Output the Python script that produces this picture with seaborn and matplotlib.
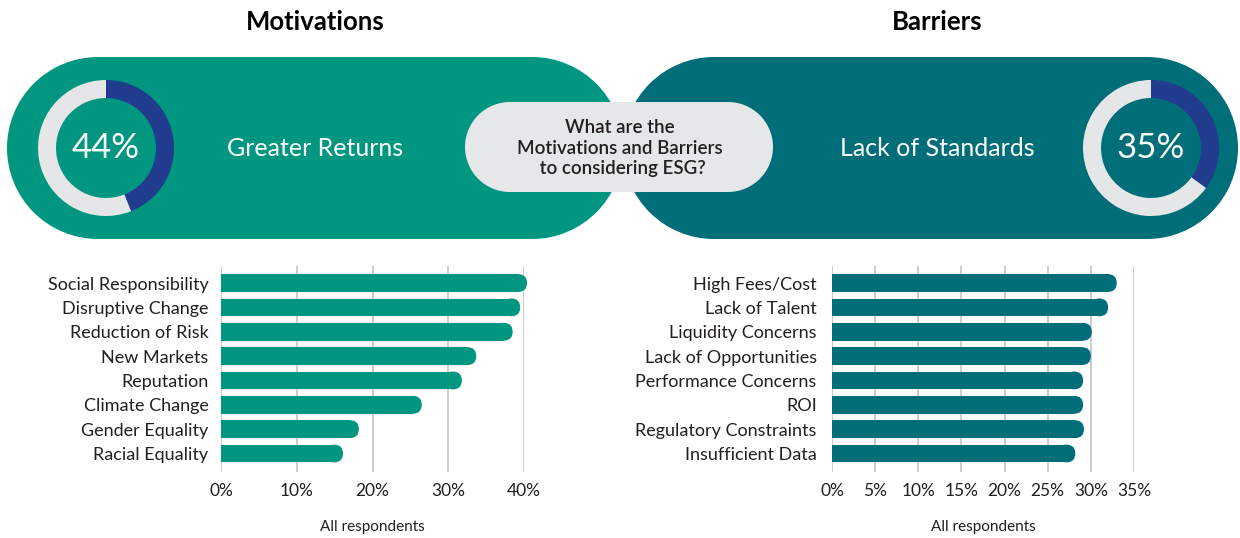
import matplotlib
matplotlib.use('Agg')
import matplotlib.pyplot as plt
from matplotlib.patches import FancyBboxPatch, Rectangle, Circle
import seaborn as sns

# ------------------------------------------------------------
# Data
# ------------------------------------------------------------
motive_labels = ['Social Responsibility', 'Disruptive Change', 'Reduction of Risk',
                 'New Markets', 'Reputation', 'Climate Change',
                 'Gender Equality', 'Racial Equality']
motive_values = [40.4, 39.5, 38.5, 33.7, 31.8, 26.5, 18.2, 16.1]

barrier_labels = ['High Fees/Cost', 'Lack of Talent', 'Liquidity Concerns',
                  'Lack of Opportunities', 'Performance Concerns', 'ROI',
                  'Regulatory Constraints', 'Insufficient Data']
barrier_values = [33.0, 32.0, 30.1, 30.0, 29.1, 29.1, 29.2, 28.2]

top_motive = 'Greater Returns'
top_motive_pct = 44
top_barrier = 'Lack of Standards'
top_barrier_pct = 35

motive_ticks = [0, 10, 20, 30, 40]
barrier_ticks = [0, 5, 10, 15, 20, 25, 30, 35]

# ------------------------------------------------------------
# Style
# ------------------------------------------------------------
GREEN = '#00967F'
TEAL = '#006E79'
BLUE = '#213B8F'
LIGHT = '#E5E6E8'
INK = '#231F20'

sns.set_theme(style='white')
plt.rcParams['font.family'] = ['Lato', 'DejaVu Sans']

W, H = 1240, 538
fig = plt.figure(figsize=(W / 100, H / 100), dpi=100)

# background canvas in pixel coords
bg = fig.add_axes([0, 0, 1, 1])
bg.set_xlim(0, W)
bg.set_ylim(H, 0)
bg.axis('off')


def pill(x0, y0, w, h, color):
    # stadium shape: rectangle + two half circles
    r = h / 2
    bg.add_patch(Rectangle((x0 + r, y0), w - 2 * r, h, fc=color, ec='none'))
    bg.add_patch(Circle((x0 + r, y0 + r), r, fc=color, ec='none'))
    bg.add_patch(Circle((x0 + w - r, y0 + r), r, fc=color, ec='none'))


pill(7, 57, 616, 182, GREEN)
pill(623, 57, 615, 182, TEAL)
pill(465, 102, 308, 90, '#E6E7E9')

bg.text(620, 148, 'What are the\nMotivations and Barriers\n to considering ESG?',
        ha='center', va='center', fontsize=13.5, fontweight='semibold', color=INK,
        linespacing=1.25)

bg.text(315, 22, 'Motivations', ha='center', va='center', fontsize=18.5,
        fontweight='bold', color='black')
bg.text(937, 22, 'Barriers', ha='center', va='center', fontsize=18.5,
        fontweight='bold', color='black')
bg.text(315, 148, top_motive, ha='center', va='center', fontsize=18, color='white')
bg.text(937, 148, top_barrier, ha='center', va='center', fontsize=18, color='white')


def donut(cx, cy, pct):
    r = 68
    ax = fig.add_axes([(cx - r) / W, (H - cy - r) / H, 2 * r / W, 2 * r / H])
    ax.pie([pct, 100 - pct], colors=[BLUE, LIGHT], startangle=90, counterclock=False,
           wedgeprops=dict(width=0.265, edgecolor='none'))
    ax.set_xlim(-1, 1)
    ax.set_ylim(-1, 1)
    ax.axis('off')
    ax.text(0, 0, f'{pct}%', ha='center', va='center', fontsize=25, color='white')


donut(106, 148, top_motive_pct)
donut(1151, 148, top_barrier_pct)


# ------------------------------------------------------------
# Bar charts
# ------------------------------------------------------------
def bar_panel(left_px, width_px, labels, values, ticks, color, label_pad):
    top_px, bottom_px = 266, 472
    ax = fig.add_axes([left_px / W, (H - bottom_px) / H, width_px / W,
                       (bottom_px - top_px) / H])
    df = {'label': labels, 'value': values}
    sns.barplot(data=df, x='value', y='label', orient='h', color=color,
                width=0.73, saturation=1, ax=ax)
    xmax = ticks[-1]
    ax.set_xlim(0, xmax)
    ax.set_ylim(len(labels) - 0.24, -0.70)

    # rounded right ends
    px_per_unit = width_px / xmax
    for p in list(ax.patches):
        x, y = p.get_x(), p.get_y()
        w, h = p.get_width(), p.get_height()
        r = (h * (bottom_px - top_px) / (len(labels) + 0.46)) / 2 / px_per_unit
        p.set_width(max(w - r, 0))
        p.set_edgecolor('none')
        p.set_clip_on(False)
        cap = FancyBboxPatch((max(x + w - 2 * r, 0), y), min(2 * r, w), h,
                             boxstyle=f'round,pad=0,rounding_size={r}',
                             mutation_aspect=(h / 2) / r,
                             fc=color, ec='none', clip_on=False)
        ax.add_patch(cap)

    ax.set_xticks(ticks)
    ax.set_xticklabels([f'{t}%' for t in ticks])
    ax.grid(axis='x', color='#C8C8C8', lw=1.3)
    ax.grid(axis='y', visible=False)
    ax.set_axisbelow(True)
    for s in ax.spines.values():
        s.set_visible(False)
    ax.tick_params(axis='x', length=0, pad=8, labelsize=12.5, colors=INK)
    ax.tick_params(axis='y', length=0, pad=label_pad, labelsize=13, colors=INK)
    ax.set_ylabel('')
    ax.set_xlabel('All respondents', fontsize=11, color=INK, labelpad=15)
    return ax


bar_panel(221, 303, motive_labels, motive_values, motive_ticks, GREEN, 9)
bar_panel(832, 302, barrier_labels, barrier_values, barrier_ticks, TEAL, 11)

fig.savefig('out.png', dpi=100)
